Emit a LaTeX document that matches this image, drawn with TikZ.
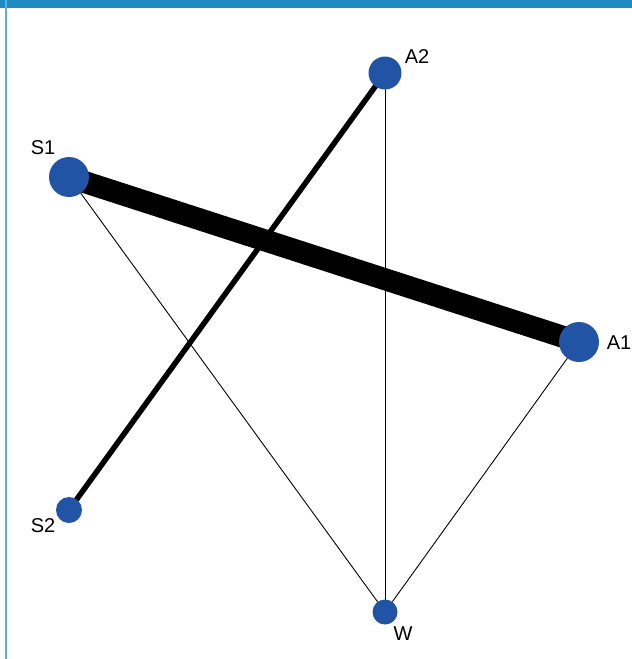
\documentclass[tikz,border=0pt]{standalone}
\usepackage{fontspec}
\setmainfont{Liberation Sans}
\definecolor{band}{HTML}{1E8BC3}
\definecolor{sideline}{HTML}{5AAFDC}
\definecolor{nodeblue}{HTML}{2254A6}
\begin{document}
\begin{tikzpicture}[x=1pt,y=-1pt,
  vert/.style={circle,fill=nodeblue,inner sep=0pt},
  lbl/.style={font=\fontsize{20}{24}\selectfont,inner sep=0pt},
  thin edge/.style={line width=0.9pt,black},
  mid edge/.style={line width=5.5pt,black},
  fat edge/.style={line width=22pt,black}]
\useasboundingbox (0,0) rectangle (632,659);
\fill[white] (0,0) rectangle (632,659);
\fill[band] (0,0) rectangle (632,8);
\fill[sideline] (5,0) rectangle (7,659);
% node anchors
\coordinate (A2) at (385,73);
\coordinate (S1) at (69,177);
\coordinate (A1) at (579,342);
\coordinate (S2) at (69,510);
\coordinate (W) at (385,612);
% edges
\draw[fat edge] (S1) -- (A1);
\draw[mid edge] (A2) -- (S2);
\draw[thin edge] (S1) -- (W);
\draw[thin edge] (A2) -- (W);
\draw[thin edge] (A1) -- (W);
% nodes
\node[vert,minimum size=33pt] (nA2) at (A2) {};
\node[vert,minimum size=40pt] (nS1) at (S1) {};
\node[vert,minimum size=40pt] (nA1) at (A1) {};
\node[vert,minimum size=26pt] (nS2) at (S2) {};
\node[vert,minimum size=25pt] (nW) at (W) {};
% labels
\node[lbl] (lA2) at (417,57) {A2};
\node[lbl] (lS1) at (43,148) {S1};
\node[lbl] (lA1) at (619,343) {A1};
\node[lbl] (lS2) at (43,526) {S2};
\node[lbl] (lW) at (403,634) {W};
\end{tikzpicture}
\end{document}
